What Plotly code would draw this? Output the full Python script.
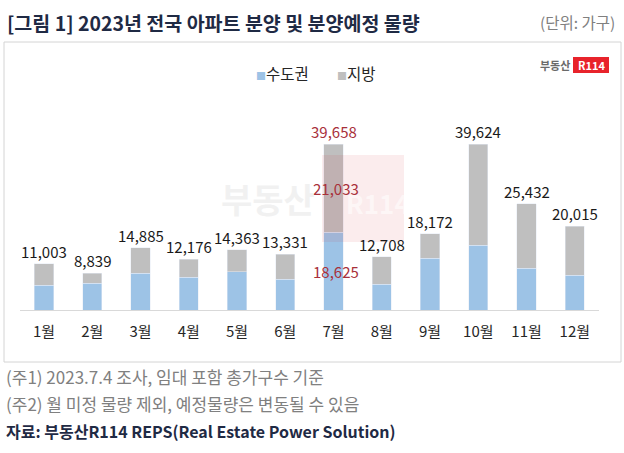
import plotly.graph_objects as go

months = ["1월", "2월", "3월", "4월", "5월", "6월", "7월", "8월", "9월", "10월", "11월", "12월"]
total = [11003, 8839, 14885, 12176, 14363, 13331, 39658, 12708, 18172, 39624, 25432, 20015]
capital = [5970, 6380, 8770, 7800, 9160, 7400, 18625, 6210, 12350, 15530, 9960, 8360]
local = [t - c for t, c in zip(total, capital)]
series_names = ["수도권", "지방"]
highlight_month = "7월"

W, H = 624, 453
FONT = "Noto Sans CJK KR"
BLUE = "#9dc3e6"
GRAY = "#bfbfbf"
RED_TXT = "#a8303a"


def px(x):
    return x / W


def py(y):
    return 1 - y / H


fig = go.Figure()
fig.add_trace(go.Bar(x=months, y=capital, name=series_names[0], marker_color=BLUE, width=0.4, showlegend=False))
fig.add_trace(go.Bar(x=months, y=local, name=series_names[1], marker_color=GRAY, width=0.4, showlegend=False))

ann = []
for m, t, c, l in zip(months, total, capital, local):
    if m == highlight_month:
        ann.append(dict(x=m, y=t, xref="x", yref="y", text=f"{t:,}", showarrow=False,
                        yanchor="bottom", yshift=0, font=dict(size=15, color=RED_TXT, family=FONT)))
        ann.append(dict(x=m, y=c + l / 2, xref="x", yref="y", text=f"{l:,}", showarrow=False,
                        yanchor="middle", xshift=2, font=dict(size=15, color=RED_TXT, family=FONT)))
        ann.append(dict(x=m, y=c / 2, xref="x", yref="y", text=f"{c:,}", showarrow=False,
                        yanchor="middle", xshift=2, font=dict(size=15, color=RED_TXT, family=FONT)))
    else:
        ann.append(dict(x=m, y=t, xref="x", yref="y", text=f"{t:,}", showarrow=False,
                        yanchor="bottom", yshift=0, font=dict(size=15, color="#1a1a1a", family=FONT)))

# legend (manual, compact)
ann.append(dict(x=px(254), y=py(73), xref="paper", yref="paper", xanchor="left", yanchor="middle",
                text=f"<span style='color:{BLUE};font-size:10px'>■</span>{series_names[0]}", showarrow=False,
                font=dict(size=15.5, color="#262626", family=FONT)))
ann.append(dict(x=px(335), y=py(73), xref="paper", yref="paper", xanchor="left", yanchor="middle",
                text=f"<span style='color:{GRAY};font-size:10px'>■</span>{series_names[1]}", showarrow=False,
                font=dict(size=15.5, color="#262626", family=FONT)))

# title & unit
ann.append(dict(x=px(5), y=py(22), xref="paper", yref="paper", xanchor="left", yanchor="middle",
                text="<b>[그림 1] 2023년 전국 아파트 분양 및 분양예정 물량</b>", showarrow=False,
                font=dict(size=19.5, color="#1f2a44", family=FONT)))
ann.append(dict(x=px(617), y=py(22), xref="paper", yref="paper", xanchor="right", yanchor="middle",
                text="(단위: 가구)", showarrow=False, font=dict(size=15.5, color="#808080", family=FONT)))
# footnotes
ann.append(dict(x=px(4), y=py(376), xref="paper", yref="paper", xanchor="left", yanchor="middle",
                text="(주1) 2023.7.4 조사, 임대 포함 총가구수 기준", showarrow=False,
                font=dict(size=17, color="#808080", family=FONT)))
ann.append(dict(x=px(4), y=py(403), xref="paper", yref="paper", xanchor="left", yanchor="middle",
                text="(주2) 월 미정 물량 제외, 예정물량은 변동될 수 있음", showarrow=False,
                font=dict(size=17, color="#808080", family=FONT)))
ann.append(dict(x=px(4), y=py(431), xref="paper", yref="paper", xanchor="left", yanchor="middle",
                text="<b>자료: 부동산R114 REPS(Real Estate Power Solution)</b>", showarrow=False,
                font=dict(size=16, color="#1f2a44", family=FONT)))
# top-right logo
ann.append(dict(x=px(572), y=py(65), xref="paper", yref="paper", xanchor="right", yanchor="middle",
                text="<b>부동산</b>", showarrow=False, font=dict(size=11, color="#6a6a6a", family=FONT)))
ann.append(dict(x=px(591), y=py(65), xref="paper", yref="paper", xanchor="center", yanchor="middle",
                text="<b>R114</b>", showarrow=False, font=dict(size=11, color="white", family=FONT)))
# watermark
ann.append(dict(x=px(268), y=py(198), xref="paper", yref="paper", xanchor="center", yanchor="middle",
                text="<b>부동산</b>", showarrow=False, font=dict(size=34, color="rgba(240,240,240,0.9)", family=FONT)))
ann.append(dict(x=px(378), y=py(202), xref="paper", yref="paper", xanchor="center", yanchor="middle",
                text="<b>R114</b>", showarrow=False, font=dict(size=26, color="rgba(255,255,255,0.55)", family=FONT)))

shapes = [
    dict(type="rect", xref="paper", yref="paper", x0=px(4), x1=px(621), y0=py(362), y1=py(42),
         line=dict(color="#d4d4d4", width=1), fillcolor="rgba(0,0,0,0)", layer="below"),
    dict(type="rect", xref="paper", yref="paper", x0=px(573), x1=px(609), y0=py(73), y1=py(57),
         line=dict(width=0), fillcolor="#e8232b", layer="below"),
    dict(type="rect", xref="paper", yref="paper", x0=px(322), x1=px(404), y0=py(242), y1=py(155),
         line=dict(width=0), fillcolor="rgba(215,40,50,0.09)", layer="above"),
]

fig.update_layout(
    width=W, height=H, barmode="stack",
    margin=dict(l=0, r=0, t=0, b=0),
    paper_bgcolor="white", plot_bgcolor="white",
    font=dict(family=FONT, color="#1a1a1a"),
    xaxis=dict(domain=[px(19.9), px(598.9)], range=[-0.5, 11.5], showgrid=False,
               showline=True, linecolor="#d9d9d9", linewidth=1, ticks="",
               tickfont=dict(size=15, color="#262626", family=FONT), ticklabelstandoff=8),
    yaxis=dict(domain=[py(310), py(100)], range=[0, 50170], visible=False, showgrid=False),
    showlegend=False,
    annotations=ann, shapes=shapes,
)

fig.write_html("out.html", config={"displayModeBar": False},
               post_script="document.body.style.margin='0';document.body.style.padding='0';")
